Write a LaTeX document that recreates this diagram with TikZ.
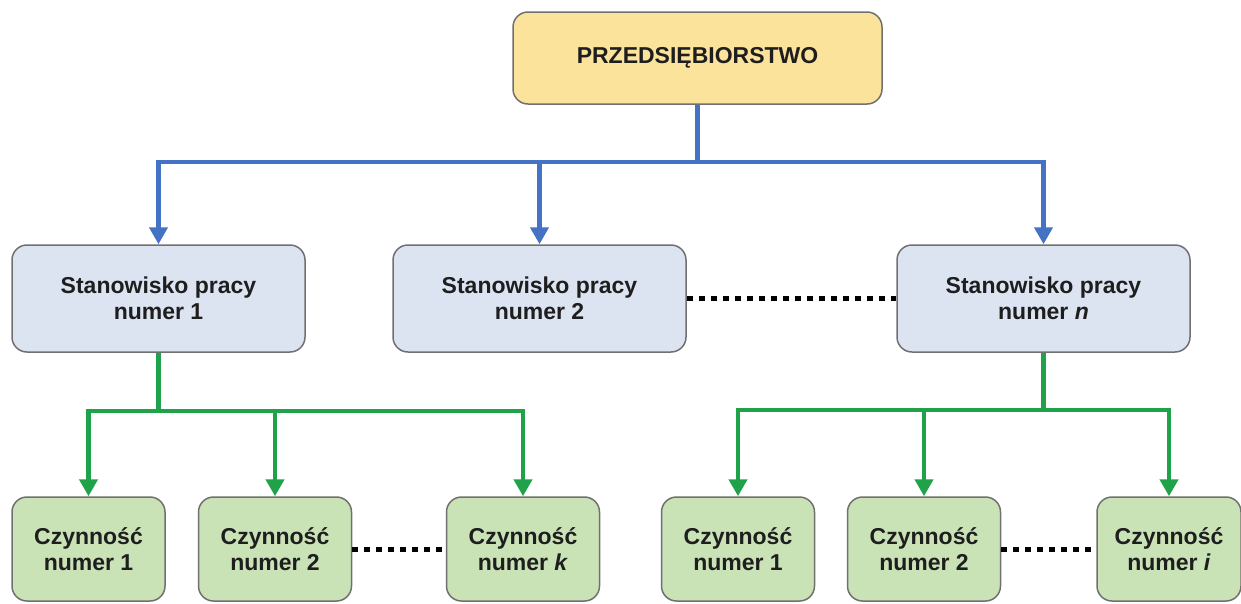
\documentclass[tikz,border=0pt]{standalone}
\usepackage{fontspec}
\setmainfont{Liberation Sans}
\usetikzlibrary{arrows.meta}
\definecolor{cblue}{HTML}{4472C4}
\definecolor{cgreen}{HTML}{1FA24A}
\definecolor{cyellow}{HTML}{FBE39B}
\definecolor{cpale}{HTML}{DCE4F2}
\definecolor{cmint}{HTML}{C9E2B6}
\definecolor{cedge}{HTML}{707070}
\definecolor{ctext}{HTML}{1E1E1E}
\tikzset{
  every picture/.style={x=1pt, y=-1pt},
  box/.style={draw=cedge, fill=#1, line width=1.5pt, rounded corners=15pt, align=center, inner sep=0pt, text=ctext, font=\fontsize{23}{26}\selectfont\bfseries},
  box/.default=cpale,
  post/.style={box=cpale, minimum width=293pt, minimum height=107pt},
  task/.style={box=cmint, minimum width=153pt, minimum height=104pt},
  link/.style={-{Triangle[length=17pt, width=18pt]}, draw=#1, line width=4.5pt},
  dots/.style={draw=black, line width=5pt, dash pattern=on 6pt off 6pt},
}

\begin{document}
\begin{tikzpicture}
  \clip (0,0) rectangle (1241,603);
  \node[box=cyellow, minimum width=369pt, minimum height=92pt] (firm) at (697.5,58) {PRZEDSIĘBIORSTWO};
  \node[post] (st1) at (158.5,298.5) {Stanowisko pracy\\numer 1};
  \node[post] (st2) at (539.5,298.5) {Stanowisko pracy\\numer 2};
  \node[post] (stn) at (1043.5,298.5) {Stanowisko pracy\\numer \textit{n}};
  \node[task] (a1) at (88.5,549) {Czynność\\numer 1};
  \node[task] (a2) at (275,549) {Czynność\\numer 2};
  \node[task] (ak) at (523,549) {Czynność\\numer \textit{k}};
  \node[task] (b1) at (738,549) {Czynność\\numer 1};
  \node[task] (b2) at (924,549) {Czynność\\numer 2};
  \node[task, minimum width=144pt] (bi) at (1169,549) {Czynność\\numer \textit{i}};
  \coordinate (top) at (697.5,162);
  \coordinate (left) at (158.5,411);
  \coordinate (right) at (1043.5,410);
  % blue branches
  \draw[link=cblue, -] (firm.south) -- (top);
  \foreach \s in {st1, st2, stn}
    \draw[link=cblue] (top) -| (\s.north);
  % green branches
  \draw[link=cgreen, -] (st1.south) -- (left);
  \foreach \s in {a1, a2, ak}
    \draw[link=cgreen] (left) -| (\s.north);
  \draw[link=cgreen, -] (stn.south) -- (right);
  \foreach \s in {b1, b2, bi}
    \draw[link=cgreen] (right) -| (\s.north);
  % dotted gaps
  \draw[dots] (st2.east) -- (stn.west);
  \draw[dots] (a2.east) -- (ak.west);
  \draw[dots] (b2.east) -- (bi.west);
\end{tikzpicture}
\end{document}
